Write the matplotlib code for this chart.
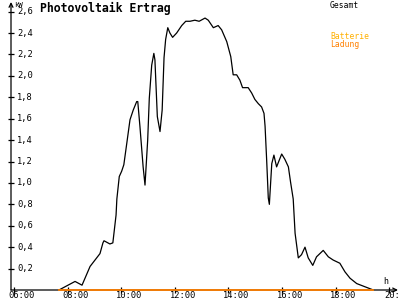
import matplotlib
matplotlib.use("Agg")
import matplotlib.pyplot as plt
from matplotlib.transforms import ScaledTranslation, blended_transform_factory

# Gesamt (kW) over time of day (decimal hours)
hours = [
    7.68, 8.28, 8.54, 8.84, 9.21, 9.32, 9.36, 9.58, 9.69, 9.81, 9.84, 9.93,
    10.02, 10.10, 10.21, 10.33, 10.45, 10.58, 10.62, 10.70, 10.82, 10.89, 10.99,
    11.05, 11.14, 11.22, 11.26, 11.35, 11.45, 11.53, 11.60, 11.66, 11.74, 11.82,
    11.92, 12.07, 12.26, 12.41, 12.57, 12.75, 12.91, 13.13, 13.25, 13.44, 13.62,
    13.75, 13.94, 14.09, 14.18, 14.31, 14.43, 14.53, 14.74, 14.87, 14.99, 15.12,
    15.24, 15.33, 15.37, 15.43, 15.49, 15.53, 15.62, 15.70, 15.80, 15.99, 16.11,
    16.24, 16.32, 16.42, 16.49, 16.61, 16.73, 16.86, 16.98, 17.15, 17.29, 17.54,
    17.73, 17.91, 18.16, 18.35, 18.54, 18.79, 19.10, 19.41,
]
gesamt = [
    0.00, 0.08, 0.045, 0.22, 0.34, 0.44, 0.46, 0.43, 0.44, 0.70, 0.85, 1.06,
    1.11, 1.17, 1.37, 1.59, 1.68, 1.76, 1.76, 1.53, 1.15, 0.98, 1.40,
    1.79, 2.10, 2.21, 2.15, 1.62, 1.48, 1.68, 2.17, 2.34, 2.45, 2.40,
    2.36, 2.40, 2.47, 2.51, 2.51, 2.52, 2.51, 2.54, 2.52, 2.45, 2.47,
    2.43, 2.32, 2.18, 2.01, 2.01, 1.96, 1.89, 1.89, 1.84, 1.78, 1.74,
    1.71, 1.65, 1.53, 1.21, 0.86, 0.80, 1.18, 1.26, 1.15, 1.27, 1.22,
    1.15, 1.01, 0.85, 0.53, 0.30, 0.33, 0.40, 0.30, 0.23, 0.31, 0.37,
    0.31, 0.28, 0.25, 0.17, 0.11, 0.06, 0.03, 0.00,
]

# Batterie Ladung (kW)
ladung_hours = [7.68, 19.41]
ladung = [0.0, 0.0]

y_ticks = [0.2, 0.4, 0.6, 0.8, 1.0, 1.2, 1.4, 1.6, 1.8, 2.0, 2.2, 2.4, 2.6]
y_labels = ["0,2", "0,4", "0,6", "0,8", "1,0", "1,2", "1,4", "1,6", "1,8",
            "2,0", "2,2", "2,4", "2,6"]
x_ticks = [6, 8, 10, 12, 14, 16, 18, 20]
x_labels = ["06:00", "08:00", "10:00", "12:00", "14:00", "16:00", "18:00", "20:00"]

MONO = "DejaVu Sans Mono"

fig = plt.figure(figsize=(4, 3), dpi=100)
ax = fig.add_axes([11 / 400, 10 / 300, 387 / 400, 288 / 300])
ax.set_xlim(5.89, 20.33)
ax.set_ylim(0, 2.69)
for side in ["top", "right", "left", "bottom"]:
    ax.spines[side].set_visible(False)

# axes with open arrowheads
arrow = dict(arrowstyle="->", color="black", lw=0.9, shrinkA=0, shrinkB=0,
             mutation_scale=7)
ax.annotate("", xy=(1, 0), xytext=(0, 0), xycoords="axes fraction",
            textcoords="axes fraction", arrowprops=arrow)
ax.annotate("", xy=(0, 1), xytext=(0, 0), xycoords="axes fraction",
            textcoords="axes fraction", arrowprops=arrow)

ax.plot(hours, gesamt, color="black", lw=0.9, zorder=3)
ax.plot(ladung_hours, ladung, color="#ff8000", lw=1.3, zorder=4,
        clip_on=False)

ax.set_xticks(x_ticks)
ax.set_yticks(y_ticks)
ax.tick_params(direction="inout", length=5, width=0.9, color="black",
               labelleft=False, labelbottom=False)

ytrans = blended_transform_factory(ax.transAxes, ax.transData)
for val, lab in zip(y_ticks, y_labels):
    ax.text(0, val, lab, transform=ytrans + ScaledTranslation(6 / 100, 0, fig.dpi_scale_trans),
            ha="left", va="center", fontsize=6.3, family=MONO)

xtrans = blended_transform_factory(ax.transData, ax.transAxes)
for val, lab in zip(x_ticks, x_labels):
    ax.text(val, 0, lab, transform=xtrans + ScaledTranslation(8 / 100, -8.5 / 100, fig.dpi_scale_trans),
            ha="center", va="baseline", fontsize=6.3, family=MONO, clip_on=False)

fig.text(14 / 400, 1 - 5 / 300, "kW", fontsize=5.2, family=MONO, ha="left", va="center")
fig.text(40 / 400, 1 - 8.5 / 300, "Photovoltaik Ertrag", fontsize=8.3,
         family=MONO, weight="bold", ha="left", va="center")
fig.text(330 / 400, 1 - 5.5 / 300, "Gesamt", fontsize=5.8, family=MONO,
         color="black", ha="left", va="center")
fig.text(330 / 400, 1 - 36.5 / 300, "Batterie", fontsize=5.8, family=MONO,
         color="#ffb000", ha="left", va="center")
fig.text(330 / 400, 1 - 44.5 / 300, "Ladung", fontsize=5.8, family=MONO,
         color="#ff8000", ha="left", va="center")
fig.text(386 / 400, 1 - 281 / 300, "h", fontsize=6, family=MONO, ha="center", va="center")

fig.savefig("out.png", dpi=100)
